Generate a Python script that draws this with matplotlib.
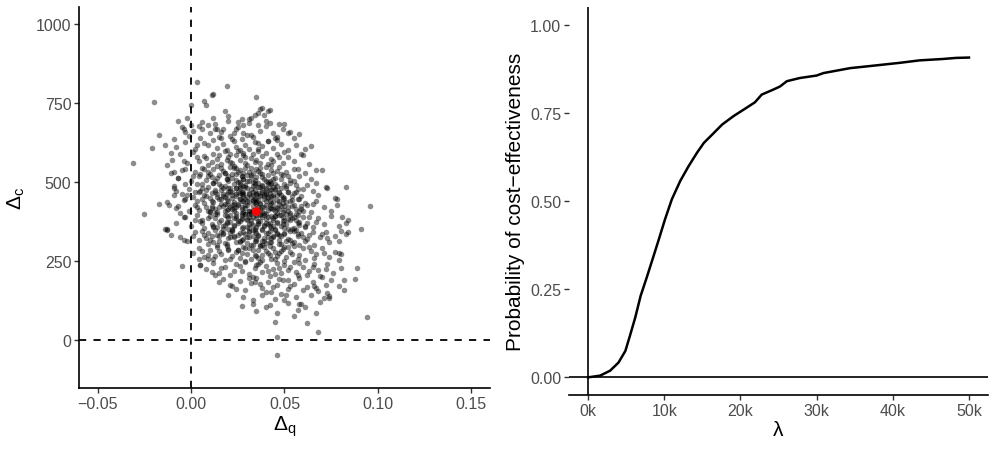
import matplotlib
matplotlib.use("Agg")
import matplotlib.pyplot as plt
import numpy as np

plt.rcParams['font.family'] = ['Liberation Sans', 'DejaVu Sans']
plt.rcParams['mathtext.fontset'] = 'custom'
plt.rcParams['mathtext.rm'] = 'Liberation Sans'
plt.rcParams['mathtext.it'] = 'Liberation Sans'
plt.rcParams['mathtext.bf'] = 'Liberation Sans:bold'

# --- cost-effectiveness plane: incremental QALYs (x1000) and incremental costs ---
dq_x1000 = [
    # upper band 650-800
    -5, 1, 6, 10, 13, 16, 20, 24, 28, 31, 37, 40, 44, 49, 53,
    # 600-650
    -8, -3, 2, 5, 9, 12, 14, 17, 21, 24, 27, 31, 34, 38, 44,
    48, 52, 56, -1, 7, 15, 19, 23, 29, 33, 36, 41, 45, 3, 26,
    # 550-600
    -10, -6, -2, 1, 4, 7, 9, 12, 14, 16, 18, 20, 22, 24, 26,
    28, 30, 32, 34, 36, 38, 41, 43, 46, 49, 52, 55, 59, 63, 8,
    11, 15, 19, 23, 25, 29, 33, 37, 40, 44, 47, 50, 3, -4, 21,
    # 500-550
    -11, -7, -3, 0, 2, 4, 6, 8, 10, 12, 13, 15, 17, 19, 21,
    22, 24, 26, 27, 29, 31, 33, 35, 37, 39, 41, 43, 45, 47, 49,
    51, 53, 55, 58, 61, 64, 67, 9, 14, 18, 23, 28, 32, 36, 42,
    44, 48, 5, 11, 16, 20, 25, 30, 34, 38, 40, 46, 52, 57, 1,
    # 450-500
    -9, -5, -1, 1, 3, 5, 7, 9, 11, 12, 14, 16, 18, 19, 21,
    23, 24, 26, 27, 29, 30, 32, 33, 35, 36, 38, 39, 41, 42, 44,
    46, 47, 49, 51, 53, 55, 57, 59, 62, 65, 68, 72, 6, 10, 13,
    15, 17, 20, 22, 25, 28, 31, 34, 37, 40, 43, 45, 48, 52, 56,
    2, 8, 17, 24, 28, 33, 36, 40, 44, 50, 54, 60, -3, 26, 38,
    # 400-450
    -13, -8, -4, -1, 2, 4, 6, 8, 10, 12, 13, 15, 17, 18, 20,
    21, 23, 24, 26, 27, 29, 30, 31, 33, 34, 36, 37, 39, 40, 42,
    43, 45, 46, 48, 50, 51, 53, 55, 57, 59, 61, 64, 67, 71, 75,
    7, 11, 14, 16, 19, 22, 25, 28, 32, 35, 38, 41, 44, 47, 52,
    54, 58, 62, 3, 9, 18, 23, 28, 33, 37, 42, 46, 49, 56, 65,
    # 350-400
    -8, -3, 0, 3, 5, 7, 9, 11, 13, 14, 16, 18, 19, 21, 22,
    24, 25, 27, 28, 30, 31, 33, 34, 36, 37, 39, 40, 42, 43, 45,
    46, 48, 49, 51, 53, 54, 56, 58, 60, 62, 65, 68, 71, 75, 79,
    6, 10, 15, 17, 20, 23, 26, 29, 32, 35, 38, 41, 44, 47, 50,
    52, 57, 63, 2, 12, 19, 27, 31, 36, 40, 44, 49, 55, 61, 67,
    # 300-350
    -6, -2, 2, 4, 7, 9, 11, 13, 15, 17, 19, 20, 22, 24, 25,
    27, 28, 30, 31, 33, 34, 36, 37, 39, 41, 42, 44, 45, 47, 48,
    50, 52, 53, 55, 57, 59, 61, 63, 66, 69, 72, 74, 77, 6, 10,
    14, 18, 21, 26, 29, 32, 35, 38, 40, 43, 46, 51, 56, 60, 65,
    12, 16, 23, 31, 38, 47, 54, 62, 70, 1, 8, 35, 42, 58, 73,
    # 250-300
    1, 4, 7, 10, 12, 14, 16, 18, 20, 22, 24, 26, 28, 30, 32,
    33, 35, 37, 38, 40, 42, 44, 45, 47, 49, 51, 53, 55, 58, 61,
    64, 67, 70, 74, 77, 9, 15, 21, 27, 31, 36, 41, 46, 52, 57,
    19, 25, 34, 39, 43, 48, 54, 60, 66, 71, 6, 13, 29, 50, 63,
    # 200-250
    5, 8, 12, 15, 18, 21, 24, 27, 29, 31, 34, 36, 38, 40, 42,
    44, 46, 48, 50, 52, 55, 57, 60, 63, 66, 69, 72, 76, 16, 33,
    26, 37, 41, 45, 53, 58, 62, 68, 13, 23, 35, 47, 56, 65, 73,
    # 150-200
    17, 22, 26, 29, 32, 35, 38, 41, 43, 46, 49, 52, 55, 58, 62,
    65, 68, 72, 75, 24, 31, 37, 40, 47, 53, 60, 66, 70, 44, 34,
    # 100-150
    28, 33, 38, 42, 45, 48, 52, 56, 61, 64, 69, 73, 40, 50, 58,
    # dense core
    25, 28, 31, 34, 37, 40, 30, 22, 27, 33, 36, 42, 20, 24, 38,
    29, 32, 35, 39, 26, 23, 41, 44, 30, 18, 21, 36, 43, 46, 33,
    16, 19, 27, 31, 24, 38, 35, 14, 12, 22, 29, 40, 45, 47, 50,
    48, 52, 54, 49, 45, 40, 36, 31, 27, 23, 19, 15, 11, 13, 17,
    26, 33, 39, 44, 50, 55, 58, 53, 56, 51, 42, 37, 32, 25, 18,
    9, 6, 8, 10, 12, 15, 21, 29, 36, 42, 47, 53, 57, 61, 60,
    58, 55, 48, 43, 35, 28, 21, 14, 7, 4, 3, 6, 9, 14, 20,
    24, 26, 28, 30, 32, 34, 36, 38, 40, 42, 44, 31, 33, 35, 37,
    23, 25, 27, 29, 31, 33, 35, 37, 39, 41, 43, 45, 47, 22, 20,
    26, 28, 30, 34, 38, 40, 44, 46, 48, 50, 52, 54, 56, 50, 46,
    42, 38, 34, 30, 26, 22, 18, 16, 19, 21, 24, 27, 29, 32, 35,
    37, 39, 41, 43, 45, 47, 49, 51, 53, 55, 57, 59, 41, 35, 30,
    25, 38, 45, 50, 46, 40, 36, 32, 28, 24, 20, 17, 13, 11, 14,
    17, 20, 23, 28, 33, 38, 43, 48, 52, 49, 44, 39, 35, 31, 27,
    23, 19, 22, 26, 29, 33, 37, 41, 45, 43, 39, 35, 31, 27, 24,
    # fringe
    3, 12, 7, 8, -7, -2, 0, 12, -17, -9, -21, -14, -31, -11, -4,
    -3, 4, 6, 9, 13, 19, 35, 18, 20, 38, 42, 39, 36, 34, 32,
    31, 27, 40, 42, 47, 50, 25, 25, 28, 14, 17, 36, 52, 55, 58,
    46, 46, 41, 36, 32, 30, 23, 22, 16, 61, 60, 64, 70, 83, 96,
    91, 77, 78, 81, 84, 83, 80, 83, 79, 79, 79, 67, 73, -25, -17,
    -12, -7, -13, -11, -4, -9, -8, -9, -7, -9, -5, -13, -6, -4, -2,
    -3, 94, 89, 68, 62, 46, 46, 45, 46, 35, 27, 33, 55, 57, 59,
    67, 71, 74, 74, 67, 82, 79, 82, 88, 80, 80, 5, 4, 9, -5,
    20, 21, 15, 11, 51, 52, -14, -13, -20, 37, 41, 11, 0, 84, 78,
]
dc = [
    676, 662, 690, 655, 683, 660, 694, 667, 655, 686, 663, 678, 657, 668, 660,
    612, 628, 605, 641, 618, 633, 607, 622, 646, 611, 636, 604, 627, 615, 608,
    622, 603, 617, 646, 624, 644, 601, 629, 617, 642, 606, 631, 640, 617, 602,
    571, 588, 559, 594, 566, 583, 553, 590, 572, 558, 597, 579, 561, 586, 569,
    592, 554, 577, 565, 598, 583, 556, 574, 590, 562, 581, 568, 589, 557, 575,
    564, 585, 571, 552, 599, 581, 589, 560, 593, 567, 579, 596, 581, 566, 590,
    528, 512, 541, 505, 533, 519, 546, 508, 527, 540, 503, 521, 536, 511, 548,
    526, 507, 539, 518, 544, 503, 530, 516, 545, 509, 524, 538, 513, 547, 521,
    533, 506, 542, 518, 529, 511, 538, 531, 514, 529, 545, 509, 521, 534, 504,
    529, 511, 527, 515, 545, 518, 531, 524, 507, 527, 549, 536, 519, 543, 519,
    488, 462, 479, 454, 493, 471, 458, 486, 467, 497, 452, 476, 489, 461, 472,
    495, 456, 483, 468, 491, 452, 477, 499, 463, 485, 470, 455, 494, 476, 460,
    488, 469, 453, 481, 496, 465, 478, 457, 490, 471, 459, 484, 482, 451, 474,
    494, 463, 481, 459, 470, 487, 463, 490, 455, 481, 497, 474, 460, 470, 492,
    468, 476, 455, 480, 461, 470, 496, 466, 484, 495, 457, 479, 495, 499, 489,
    436, 418, 442, 407, 429, 413, 446, 421, 404, 437, 416, 448, 425, 409, 441,
    420, 432, 403, 447, 414, 428, 439, 408, 423, 445, 412, 431, 402, 440, 418,
    434, 407, 444, 424, 413, 438, 401, 429, 446, 416, 433, 405, 440, 421, 410,
    433, 419, 405, 432, 447, 414, 426, 440, 404, 436, 421, 449, 415, 431, 420,
    443, 409, 427, 440, 409, 432, 419, 406, 442, 416, 427, 419, 448, 414, 432,
    372, 388, 361, 395, 378, 354, 386, 368, 399, 357, 381, 365, 392, 374, 353,
    387, 369, 396, 358, 382, 366, 391, 351, 376, 398, 362, 384, 370, 355, 393,
    374, 360, 388, 367, 397, 352, 380, 364, 391, 372, 357, 385, 368, 394, 362,
    370, 392, 375, 352, 386, 363, 378, 399, 371, 357, 389, 367, 381, 396, 355,
    383, 370, 389, 381, 358, 372, 383, 355, 367, 398, 362, 376, 389, 359, 373,
    327, 312, 341, 318, 334, 305, 329, 347, 314, 336, 303, 322, 345, 310, 331,
    318, 342, 306, 327, 349, 315, 333, 302, 324, 340, 311, 329, 348, 318, 304,
    335, 321, 345, 309, 328, 340, 314, 332, 301, 326, 343, 310, 330, 346, 317,
    331, 308, 339, 315, 336, 302, 321, 347, 307, 324, 338, 313, 347, 325, 341,
    310, 343, 326, 344, 313, 331, 306, 319, 335, 329, 323, 338, 346, 302, 322,
    276, 291, 263, 284, 257, 296, 271, 252, 288, 267, 279, 259, 294, 273, 255,
    285, 266, 298, 253, 281, 269, 292, 258, 276, 289, 262, 280, 297, 268, 254,
    283, 271, 292, 262, 279, 270, 282, 258, 274, 290, 261, 277, 265, 295, 257,
    299, 285, 270, 293, 256, 282, 271, 290, 260, 275, 283, 266, 251, 251, 296,
    238, 224, 245, 213, 232, 206, 240, 219, 248, 209, 228, 242, 215, 234, 203,
    226, 244, 211, 236, 221, 248, 207, 230, 218, 241, 204, 225, 212, 229, 201,
    234, 247, 220, 209, 232, 243, 206, 222, 205, 220, 237, 229, 215, 231, 240,
    192, 172, 186, 158, 179, 195, 164, 183, 152, 175, 190, 161, 178, 196, 168,
    185, 155, 174, 190, 163, 197, 176, 153, 193, 171, 157, 172, 199, 168, 184,
    137, 126, 143, 112, 131, 147, 118, 135, 104, 142, 121, 148, 104, 128, 113,
    # dense core
    430, 455, 410, 438, 395, 462, 380, 470, 402, 487, 420, 441, 415, 392, 475,
    445, 398, 461, 421, 481, 437, 388, 452, 503, 452, 396, 372, 419, 401, 365,
    488, 509, 520, 532, 545, 515, 540, 462, 498, 512, 560, 505, 478, 440, 423,
    395, 410, 385, 368, 352, 340, 330, 342, 355, 360, 375, 420, 440, 385, 340,
    310, 300, 315, 325, 340, 355, 375, 440, 470, 488, 495, 530, 515, 500, 530,
    520, 495, 455, 410, 360, 330, 325, 290, 285, 298, 305, 318, 335, 360, 410,
    445, 505, 525, 555, 570, 585, 565, 550, 540, 470, 420, 380, 340, 300, 285,
    422, 447, 468, 426, 452, 474, 443, 404, 428, 467, 437, 390, 412, 432, 458,
    408, 376, 385, 418, 467, 441, 396, 376, 448, 411, 394, 420, 466, 450, 470,
    495, 510, 480, 498, 490, 478, 510, 460, 482, 450, 470, 425, 400, 380, 370,
    360, 352, 345, 358, 340, 348, 395, 445, 432, 482, 462, 440, 400, 380, 410,
    435, 395, 452, 478, 392, 415, 435, 400, 380, 345, 395, 425, 325, 315, 325,
    285, 270, 280, 295, 335, 370, 465, 545, 530, 525, 505, 480, 470, 425, 400,
    360, 350, 330, 320, 330, 300, 310, 330, 350, 405, 385, 365, 385, 400, 420,
    385, 412, 428, 465, 485, 460, 485, 500, 495, 455, 462, 448, 438, 462, 480,
    # fringe
    817, 780, 756, 743, 694, 703, 743, 704, 648, 637, 608, 618, 561, 592, 669,
    659, 678, 667, 682, 669, 804, 771, 726, 710, 736, 727, 712, 719, 712, 704,
    699, 701, 693, 688, 685, 685, 691, 675, 682, 669, 669, 682, 657, 641, 651,
    643, 632, 629, 625, 650, 648, 656, 638, 640, 606, 585, 613, 539, 484, 423,
    350, 450, 429, 389, 381, 370, 344, 336, 315, 275, 252, 498, 482, 399, 430,
    429, 423, 351, 333, 316, 482, 472, 458, 513, 532, 537, 553, 402, 391, 458,
    447, 74, 227, 26, 53, -47, 11, 58, 86, 93, 107, 114, 75, 94, 114,
    86, 132, 132, 140, 164, 159, 172, 191, 193, 227, 273, 237, 258, 256, 235,
    142, 174, 185, 214, 142, 191, 351, 349, 755, 733, 726, 775, 680, 341, 446,
]
mean_dq = 0.035
mean_dc = 410

# --- acceptability curve ---
wtp = [0, 1600, 2900, 4000, 4900, 5500, 6200, 6900, 7700, 8600, 9300, 10100,
       11000, 12100, 13200, 14300, 15200, 16500, 17600, 19100, 20400, 21900,
       22800, 24300, 25200, 26100, 27800, 30000, 30900, 34400, 36600, 40900,
       43500, 46600, 48300, 50000]
p_ce = [0.0, 0.005, 0.019, 0.042, 0.075, 0.118, 0.17, 0.231, 0.283, 0.344,
        0.392, 0.448, 0.505, 0.557, 0.599, 0.637, 0.665, 0.693, 0.717, 0.741,
        0.759, 0.78, 0.802, 0.816, 0.825, 0.84, 0.849, 0.856, 0.863, 0.877,
        0.882, 0.892, 0.899, 0.903, 0.906, 0.907]

dq = np.array(dq_x1000) / 1000.0

fig = plt.figure(figsize=(9.97, 4.52), dpi=100)
ax1 = fig.add_axes([0.0792, 0.1394, 0.4123, 0.8426])
ax2 = fig.add_axes([0.5707, 0.1239, 0.4203, 0.8581])

tick_col = '#4d4d4d'

# left panel
ax1.scatter(dq, dc, s=16, color='black', alpha=0.45, linewidths=0, zorder=2)
ax1.scatter([mean_dq], [mean_dc], s=40, color='red', linewidths=0, zorder=3)
ax1.axhline(0, color='black', lw=1.3, ls=(0, (4, 4)), zorder=1)
ax1.axvline(0, color='black', lw=1.3, ls=(0, (4, 4)), zorder=1)
ax1.set_xlim(-0.06, 0.16)
ax1.set_ylim(-152, 1054)
ax1.set_xticks([-0.05, 0.0, 0.05, 0.10, 0.15])
ax1.set_xticklabels(['\u22120.05', '0.00', '0.05', '0.10', '0.15'])
ax1.set_yticks([0, 250, 500, 750, 1000])
ax1.set_xlabel(r'$\Delta_\mathrm{q}$', fontsize=15, labelpad=2)
ax1.set_ylabel(r'$\Delta_\mathrm{c}$', fontsize=15, labelpad=6)

# right panel
ax2.plot(wtp, p_ce, color='black', lw=1.8, zorder=3)
ax2.axhline(0, color='black', lw=1.2, zorder=1)
ax2.axvline(0, color='black', lw=1.2, zorder=1)
ax2.set_xlim(-2500, 52500)
ax2.set_ylim(-0.05, 1.05)
ax2.set_xticks([0, 10000, 20000, 30000, 40000, 50000])
ax2.set_xticklabels(['0k', '10k', '20k', '30k', '40k', '50k'])
ax2.set_yticks([0, 0.25, 0.5, 0.75, 1.0])
ax2.set_yticklabels(['0.00', '0.25', '0.50', '0.75', '1.00'])
ax2.set_xlabel('\u03bb', fontsize=15, labelpad=2)
ax2.set_ylabel('Probability of cost\u2212effectiveness', fontsize=15, labelpad=4)
ax2.spines['left'].set_visible(False)

for ax in (ax1, ax2):
    ax.spines['top'].set_visible(False)
    ax.spines['right'].set_visible(False)
    for s in ('left', 'bottom'):
        ax.spines[s].set_linewidth(1.2)
    ax.tick_params(axis='both', labelsize=11.5, labelcolor=tick_col, color='#333333',
                   length=3.5, width=1.0, pad=2)

fig.savefig('out.png', dpi=100, facecolor='white')
